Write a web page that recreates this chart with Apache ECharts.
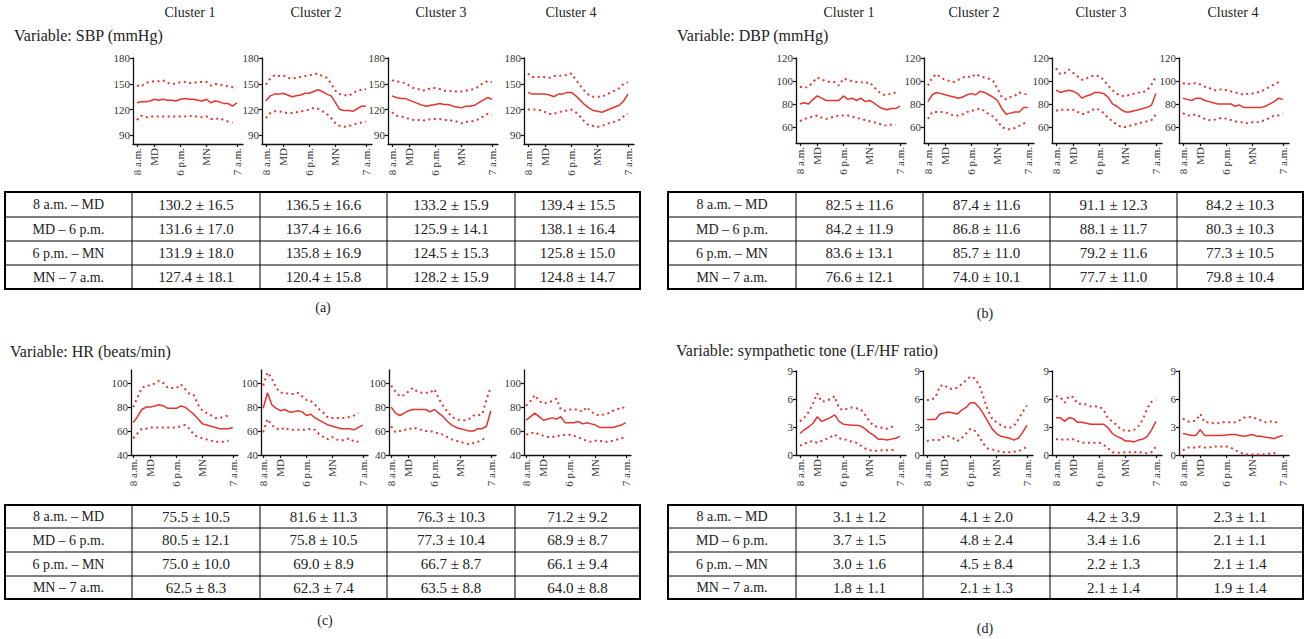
<!DOCTYPE html>
<html>
<head>
<meta charset="utf-8">
<script src="https://cdn.jsdelivr.net/npm/echarts@6/dist/echarts.min.js"></script>
<style>
html, body { margin: 0; padding: 0; background: #fff; }
#main { width: 1309px; height: 639px; }
</style>
</head>
<body>
<div id="main"></div>
<script>
// time of day in hours, 8 a.m. -> 7 a.m. next day
var hours = [8,9,10,11,12,13,14,15,16,17,18,19,20,21,22,23,24,25,26,27,28,29,30,31];
var tickHours = [8, 12, 18, 24, 31];
var tickNames = ['8 a.m.', 'MD', '6 p.m.', 'MN', '7 a.m.'];
var clusters = ['Cluster 1', 'Cluster 2', 'Cluster 3', 'Cluster 4'];
var periods = ['8 a.m. – MD', 'MD – 6 p.m.', '6 p.m. – MN', 'MN – 7 a.m.'];

// (a) SBP
var sbpMean = [
  [128,129,129,130,132,131,132,131,131,130,132,133,132,132,131,130,132,128,130,129,127,127,124,128],
  [130,136,138,138,139,137,135,136,137,139,139,141,143,141,138,136,128,120,119,119,118,121,124,124],
  [136,134,133,133,131,129,127,125,124,125,126,127,126,126,124,123,122,124,124,125,128,131,134,132],
  [140,138,138,138,138,137,135,138,138,140,140,136,131,126,122,119,118,117,119,121,123,125,130,138]
];
var sbpUpper = [
  [148,147,151,152,153,153,154,151,150,150,152,152,151,151,152,152,152,148,150,149,148,147,146,146],
  [149,156,160,159,160,157,156,157,158,159,160,161,162,159,157,150,142,138,137,136,139,142,143,144],
  [154,153,152,151,148,145,144,142,143,145,145,144,142,142,141,141,141,142,143,144,147,151,153,152],
  [162,158,158,158,158,157,159,159,160,160,162,155,148,142,137,135,135,135,137,140,142,145,150,152]
];
var sbpLower = [
  [108,113,111,112,112,112,112,112,112,112,112,112,113,112,112,111,112,109,109,110,108,106,105,null],
  [110,116,118,118,117,116,116,117,118,119,120,122,121,118,115,110,104,101,100,101,102,104,105,106],
  [117,113,112,111,109,108,108,107,108,109,109,109,108,108,107,106,104,106,106,107,109,112,115,114],
  [120,120,120,119,117,115,115,117,118,119,120,117,112,106,102,101,100,101,103,105,106,108,112,115]
];
var sbpTabMean = [[130.2,136.5,133.2,139.4],[131.6,137.4,125.9,138.1],[131.9,135.8,124.5,125.8],[127.4,120.4,128.2,124.8]];
var sbpTabSd = [[16.5,16.6,15.9,15.5],[17.0,16.6,14.1,16.4],[18.0,16.9,15.3,15.0],[18.1,15.8,15.9,14.7]];

// (b) DBP
var dbpMean = [
  [80,81,80,84,87,85,83,83,83,83,87,84,85,83,85,82,83,81,78,76,75,76,76,78],
  [82,88,90,89,88,87,86,85,86,88,89,88,91,90,88,86,83,76,71,72,73,73,77,77],
  [92,90,91,92,91,89,85,87,88,90,90,89,86,80,78,75,73,73,74,75,76,77,79,89],
  [85,84,83,85,85,83,82,81,80,80,80,80,78,79,77,77,77,77,77,78,80,82,85,84]
];
var dbpUpper = [
  [95,94,95,99,103,101,100,99,99,96,102,101,100,99,99,98,99,95,91,88,88,89,90,null],
  [96,103,106,103,101,100,99,101,103,104,103,106,104,103,102,100,93,86,84,86,87,90,89,88],
  [111,106,107,110,107,104,101,102,104,105,104,101,96,92,89,87,87,88,89,90,90,92,97,104],
  [98,97,98,98,97,95,94,92,92,93,92,91,90,89,88,89,89,90,91,93,95,97,99,null]
];
var dbpLower = [
  [65,67,68,69,70,68,67,68,69,70,70,70,69,68,67,66,65,64,63,62,61,62,62,null],
  [67,73,73,73,73,71,70,70,71,73,74,75,76,74,71,69,65,60,58,58,59,61,63,64],
  [74,75,75,75,75,73,71,72,74,76,75,72,68,65,62,60,60,61,62,63,64,65,66,71],
  [72,70,70,71,69,67,66,66,67,68,67,66,65,64,64,63,64,64,65,66,68,70,70,71]
];
var dbpTabMean = [[82.5,87.4,91.1,84.2],[84.2,86.8,88.1,80.3],[83.6,85.7,79.2,77.3],[76.6,74.0,77.7,79.8]];
var dbpTabSd = [[11.6,11.6,12.3,10.3],[11.9,11.6,11.7,10.3],[13.1,11.0,11.6,10.5],[12.1,10.1,11.0,10.4]];

// (c) HR
var hrMean = [
  [67,72,78,80,80,81,82,81,79,79,79,81,80,77,74,70,66,65,64,63,62,62,62,63],
  [79,92,82,79,77,78,76,76,77,76,73,74,71,69,67,65,64,63,62,62,62,61,63,65],
  [80,75,73,75,77,78,78,78,78,76,78,75,72,68,65,63,62,61,60,60,62,62,64,77],
  [69,72,75,72,69,70,71,70,72,67,67,67,68,66,67,66,65,63,63,63,63,64,65,67]
];
var hrUpper = [
  [80,88,96,98,98,100,102,100,96,96,96,99,95,91,90,82,77,75,73,71,71,72,73,null],
  [98,109,104,96,92,92,91,91,92,89,86,85,82,78,75,71,71,71,71,71,72,73,75,null],
  [98,93,89,90,93,96,93,92,92,92,95,87,81,76,72,70,69,69,70,73,73,74,86,97],
  [81,85,90,85,83,84,85,87,78,77,78,78,78,76,80,76,74,73,74,75,77,78,80,79]
];
var hrLower = [
  [54,58,62,62,63,63,63,63,63,63,63,64,65,62,57,55,54,53,52,51,51,51,52,null],
  [59,70,65,62,61,63,61,61,61,61,61,62,61,57,55,53,55,53,52,53,54,51,51,null],
  [64,59,60,61,61,63,62,61,60,60,59,58,57,55,53,52,51,50,49,50,51,53,54,null],
  [57,58,59,57,56,55,55,56,56,57,57,56,55,53,52,51,52,52,51,51,52,53,54,55]
];
var hrTabMean = [[75.5,81.6,76.3,71.2],[80.5,75.8,77.3,68.9],[75.0,69.0,66.7,66.1],[62.5,62.3,63.5,64.0]];
var hrTabSd = [[10.5,11.3,10.3,9.2],[12.1,10.5,10.4,8.7],[10.0,8.9,8.7,9.4],[8.3,7.4,8.8,8.8]];

// (d) LF/HF ratio
var lfMean = [
  [2.3,2.7,3.0,3.4,4.1,3.6,3.8,4.0,4.3,3.6,3.3,3.25,3.2,3.2,3.1,2.8,2.4,2.1,1.7,1.7,1.6,1.7,1.8,2.0],
  [3.8,3.8,3.8,4.4,4.5,4.6,4.5,4.4,4.8,5.1,5.6,5.6,5.1,4.4,3.6,2.8,2.3,2.0,1.9,1.8,1.6,1.8,2.4,3.2],
  [4.0,4.0,3.6,4.0,3.9,3.5,3.5,3.4,3.3,3.3,3.3,3.3,2.9,2.3,2.0,1.8,1.5,1.5,1.4,1.6,1.7,2.0,2.7,3.6],
  [2.3,2.2,2.1,2.1,2.7,2.1,2.1,2.1,2.1,2.1,2.15,2.2,2.2,2.1,2.0,2.1,2.2,2.0,2.0,1.9,1.85,1.75,1.95,2.1]
];
var lfUpper = [
  [3.6,4.0,4.6,5.5,6.6,5.7,5.8,6.0,6.3,5.0,4.8,5.0,5.1,5.0,4.9,4.3,3.6,3.1,3.0,2.9,2.8,3.0,3.2,null],
  [5.9,5.9,6.2,7.4,7.5,7.1,7.1,7.2,7.6,8.0,8.4,8.2,7.5,6.2,4.8,3.9,3.5,3.2,3.0,2.9,3.1,3.8,4.6,5.3],
  [6.3,6.2,5.6,6.3,6.2,5.5,5.5,5.4,5.2,5.2,5.2,4.8,3.9,3.6,3.2,2.7,2.6,2.6,2.7,3.1,3.8,5.0,5.7,5.9],
  [3.9,3.6,3.6,3.7,4.4,3.5,3.5,3.4,3.4,3.5,3.5,3.5,3.5,3.7,4.0,4.1,4.0,3.9,3.7,3.5,3.6,3.6,3.4,null]
];
var lfLower = [
  [1.0,1.2,1.4,1.5,1.3,1.5,1.7,1.9,2.2,1.8,1.7,1.6,1.4,1.3,1.0,0.7,0.5,0.45,0.45,0.5,0.5,0.5,0.6,null],
  [1.5,1.6,1.6,1.6,2.0,2.0,1.8,1.5,1.8,2.3,2.8,2.6,2.0,1.2,0.7,0.6,0.5,0.3,0.3,0.3,0.35,0.4,0.6,0.9],
  [1.7,1.7,1.6,1.7,1.7,1.5,1.3,1.3,1.3,1.3,1.3,1.1,0.7,0.3,0.25,0.25,0.3,0.3,0.3,0.3,0.25,0.2,0.3,0.9],
  [0.5,0.8,0.8,0.8,0.9,0.8,0.8,0.9,0.9,0.9,0.9,0.8,0.5,0.3,0.1,0.05,0.05,0.05,0.05,0.1,0.15,0.2,0.4,null]
];
var lfTabMean = [[3.1,4.1,4.2,2.3],[3.7,4.8,3.4,2.1],[3.0,4.5,2.2,2.1],[1.8,2.1,2.1,1.9]];
var lfTabSd = [[1.2,2.0,3.9,1.1],[1.5,2.4,1.6,1.1],[1.6,8.4,1.3,1.4],[1.1,1.3,1.4,1.4]];

var RED = '#e5332e';
var FONT = 'Liberation Serif';

var myChart = echarts.init(document.getElementById('main'), null, { renderer: 'svg' });

var grids = [], xAxes = [], yAxes = [], series = [], graphics = [];

function pts(vals) {
  var out = [];
  for (var i = 0; i < hours.length; i++) {
    if (vals[i] != null) out.push([hours[i], vals[i]]);
  }
  return out;
}

function txt(s, x, y, size, align) {
  graphics.push({
    type: 'text', silent: true, x: x, y: y,
    style: { text: s, fontFamily: FONT, fontSize: size, fill: '#222',
      textAlign: align || 'left', textVerticalAlign: 'middle' }
  });
}

function hline(x1, y1, x2, y2, w) {
  graphics.push({ type: 'line', silent: true, shape: { x1: x1, y1: y1, x2: x2, y2: y2 },
    style: { stroke: '#000', lineWidth: w } });
}

// one panel = 4 small charts + a table
function addPanel(p) {
  for (var c = 0; c < 4; c++) {
    var gi = grids.length;
    grids.push({ left: p.lefts[c], top: p.top, width: p.w, height: p.h, outerBoundsMode: 'none', containLabel: false });
    xAxes.push({
      type: 'value', gridIndex: gi, min: p.xmin, max: p.xmax,
      axisLine: { show: true, onZero: false, lineStyle: { color: '#111', width: 1.3 } },
      axisTick: { show: true, length: 3, customValues: tickHours, lineStyle: { color: '#111', width: 1.2 } },
      axisLabel: { show: true, rotate: 90, customValues: tickHours, fontFamily: FONT, fontSize: 11, color: '#333', margin: 4,
        formatter: function (v) { return tickNames[tickHours.indexOf(v)]; } },
      splitLine: { show: false }
    });
    yAxes.push({
      type: 'value', gridIndex: gi, min: p.ymin, max: p.ymax,
      axisLine: { show: true, lineStyle: { color: '#111', width: 1.3 } },
      axisTick: { show: true, length: 3, customValues: p.yticks, lineStyle: { color: '#111', width: 1.2 } },
      axisLabel: { show: true, customValues: p.yticks, fontFamily: FONT, fontSize: 11, color: '#333', margin: 3 },
      splitLine: { show: false }
    });
    var sets = [[p.mean[c], 'solid', 1.5], [p.upper[c], [2, 3.5], 2], [p.lower[c], [2, 3.5], 2]];
    sets.forEach(function (s) {
      series.push({
        type: 'line', xAxisIndex: gi, yAxisIndex: gi, data: pts(s[0]),
        showSymbol: false, silent: true, animation: false,
        lineStyle: { color: RED, width: s[2], type: s[1] }
      });
    });
  }
  // title + headers
  txt(p.title, p.titleX, p.titleY, 16, 'left');
  if (p.headerX) {
    for (var k = 0; k < 4; k++) txt(clusters[k], p.headerX[k], 12, 14, 'center');
  }
  // table
  var xs = p.tabX, ys = p.tabY;
  for (var r = 0; r < 4; r++) {
    var cy = (ys[r] + ys[r + 1]) / 2;
    txt(periods[r], (xs[0] + xs[1]) / 2, cy, 14, 'center');
    for (var cc = 0; cc < 4; cc++) {
      txt(p.tabMean[r][cc].toFixed(1) + ' ± ' + p.tabSd[r][cc].toFixed(1), (xs[cc + 1] + xs[cc + 2]) / 2, cy, 15, 'center');
    }
  }
  for (var i = 1; i < 4; i++) hline(xs[0], ys[i], xs[5], ys[i], 1);
  for (var j = 1; j < 5; j++) hline(xs[j], ys[0], xs[j], ys[4], 1);
  graphics.push({ type: 'rect', silent: true, shape: { x: xs[0], y: ys[0], width: xs[5] - xs[0], height: ys[4] - ys[0] },
    style: { fill: 'none', stroke: '#000', lineWidth: 2 } });
  txt(p.label, p.labelX, p.labelY, 14, 'center');
}

addPanel({
  lefts: [133, 262, 388, 524], top: 58, w: 110, h: 86, xmin: 7.1, xmax: 32.4,
  ymin: 80, ymax: 180, yticks: [90, 120, 150, 180],
  mean: sbpMean, upper: sbpUpper, lower: sbpLower,
  title: 'Variable: SBP (mmHg)', titleX: 14, titleY: 35, headerX: [190, 316, 441, 571],
  tabX: [5, 132, 260, 387, 515, 640], tabY: [192, 217, 241, 265, 289],
  tabMean: sbpTabMean, tabSd: sbpTabSd, label: '(a)', labelX: 323, labelY: 307
});
addPanel({
  lefts: [796, 924, 1052, 1179], top: 58, w: 110, h: 85, xmin: 7.1, xmax: 32.4,
  ymin: 46, ymax: 120, yticks: [60, 80, 100, 120],
  mean: dbpMean, upper: dbpUpper, lower: dbpLower,
  title: 'Variable: DBP (mmHg)', titleX: 677, titleY: 35, headerX: [849, 974, 1101, 1233],
  tabX: [668, 796, 923, 1050, 1177, 1303], tabY: [192, 217, 241, 265, 289],
  tabMean: dbpTabMean, tabSd: dbpTabSd, label: '(b)', labelX: 985, labelY: 313
});
addPanel({
  lefts: [131, 261, 389, 524], top: 370, w: 107, h: 85, xmin: 7.5, xmax: 32.2,
  ymin: 40, ymax: 111, yticks: [40, 60, 80, 100],
  mean: hrMean, upper: hrUpper, lower: hrLower,
  title: 'Variable: HR (beats/min)', titleX: 10, titleY: 351, headerX: null,
  tabX: [5, 132, 260, 387, 515, 640], tabY: [505, 528, 552, 576, 599],
  tabMean: hrTabMean, tabSd: hrTabSd, label: '(c)', labelX: 325, labelY: 620
});
addPanel({
  lefts: [796, 923, 1052, 1179], top: 371, w: 110, h: 84, xmin: 7.1, xmax: 32.4,
  ymin: 0, ymax: 9, yticks: [0, 3, 6, 9],
  mean: lfMean, upper: lfUpper, lower: lfLower,
  title: 'Variable: sympathetic tone (LF/HF ratio)', titleX: 676, titleY: 350, headerX: null,
  tabX: [668, 796, 923, 1050, 1177, 1303], tabY: [505, 528, 552, 576, 599],
  tabMean: lfTabMean, tabSd: lfTabSd, label: '(d)', labelX: 985, labelY: 628
});

var option = {
  backgroundColor: '#fff',
  animation: false,
  grid: grids,
  xAxis: xAxes,
  yAxis: yAxes,
  series: series,
  graphic: graphics
};

myChart.setOption(option);
</script>
</body>
</html>
